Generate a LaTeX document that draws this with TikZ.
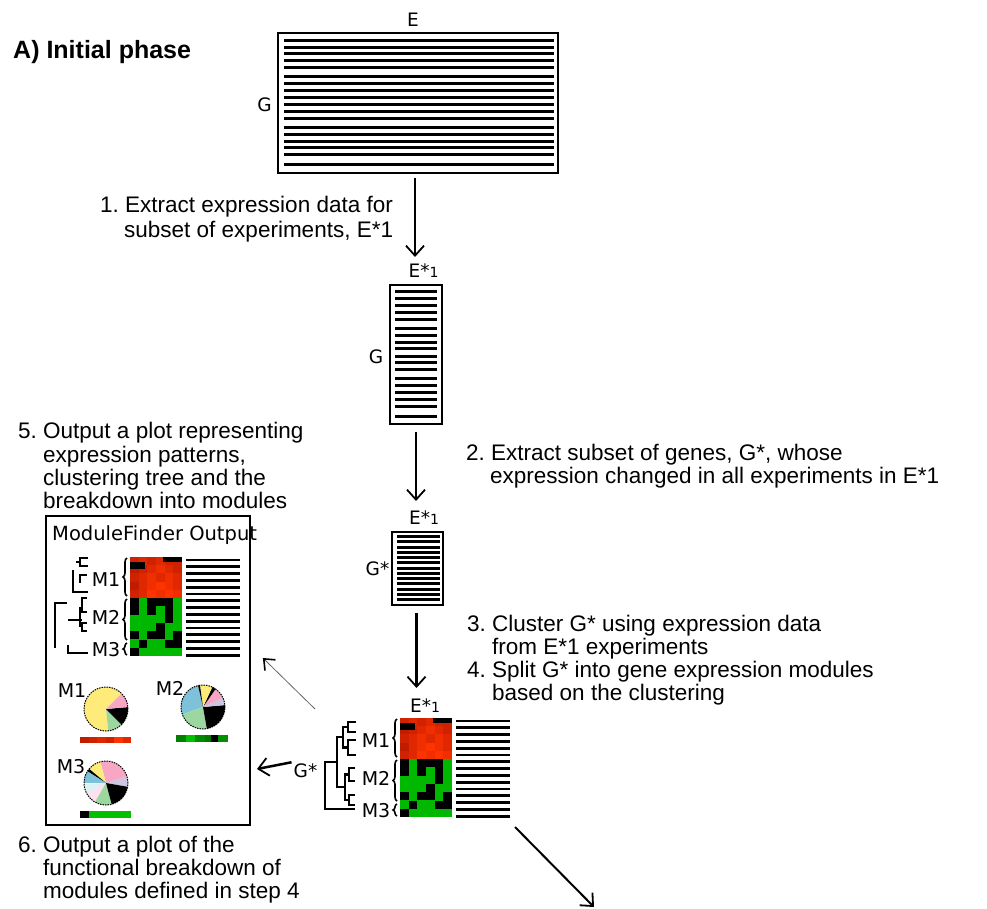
\documentclass[tikz,border=0pt]{standalone}
\usepackage{fontspec}
\setmainfont{Liberation Sans}
\newfontfamily\dvfont{DejaVu Sans}
\usetikzlibrary{arrows.meta,decorations.pathreplacing,calc}
\frenchspacing

\definecolor{pyel}{HTML}{FFEB7A}
\definecolor{ppink}{HTML}{F7A6C4}
\definecolor{pgreen}{HTML}{9CD7A0}
\definecolor{pblue}{HTML}{7EC2DA}
\definecolor{plav}{HTML}{CDC6E2}
\definecolor{pcyan}{HTML}{DCEFF3}
\definecolor{plpink}{HTML}{FDE1EE}
\definecolor{hg}{HTML}{00B800}
\definecolor{rA}{HTML}{C01C00}
\definecolor{rB}{HTML}{D02200}
\definecolor{rC}{HTML}{E02800}
\definecolor{rD}{HTML}{F02E00}
\definecolor{rE}{HTML}{FF3300}
\definecolor{gA}{HTML}{007F00}
\definecolor{gB}{HTML}{00C000}
\definecolor{gC}{HTML}{008800}
\definecolor{gD}{HTML}{007800}
\definecolor{gE}{HTML}{009000}

\newcommand\estar{E*{\fontsize{14}{14}\selectfont 1}}
\newcommand\pslice[4]{\fill[#1] (0,0) -- (#2:#4) arc (#2:#3:#4) -- cycle;}

\tikzset{
 steptext/.style={anchor=base west, inner sep=0pt, font=\fontsize{22.5}{24}\selectfont},
 lab/.style={inner sep=0pt, anchor=base, font=\dvfont\fontsize{18.5}{19}\selectfont},
 mlab/.style={inner sep=0pt, anchor=base, font=\dvfont\fontsize{19}{19}\selectfont},
 stripe/.style={line width=2.9pt},
 matbox/.style={draw, line width=1.8pt, inner sep=0pt},
 arr/.style={line width=2.3pt, -{Straight Barb[length=10pt,width=18pt,line width=1.8pt]}},
 dendro/.style={line width=2.4pt},
 brc/.style={decorate, decoration={brace,amplitude=4pt}, line width=1.6pt},
 pieedge/.style={line width=1pt, dash pattern=on 1.5pt off 1pt},
}

% heatmap + stripes + braces + labels, local origin = heatmap top-left
\newcommand\modblock[3]{%
\begin{scope}[shift={(#2,#3)}]
 \foreach \cc [count=\i from 0] in {rB,rC,rB,rC,rB,rB, rA,rB,rC,rD,rC,rB, rB,rC,rD,rC,rD,rC, rA,rC,rD,rE,rD,rC, rB,rC,rE,rD,rE,rD}{
   \pgfmathsetmacro\cx{mod(\i,6)*52/6}
   \pgfmathsetmacro\cy{floor(\i/6)*8.2}
   \fill[\cc] (\cx,\cy) rectangle ++(8.8,8.4);}
 \fill[black] (33,0) rectangle (52,4.5);
 \fill[black] (0,4.5) rectangle (15,12);
 \fill[black] (0,41) rectangle (52,99);
 \foreach \g [count=\i from 0] in {0,1,0,0,0,1, 0,1,0,1,0,1, 1,1,1,1,0,1, 1,1,1,0,1,1, 0,1,0,0,1,0, 1,0,1,1,0,0, 0,1,1,1,1,1}{
   \ifnum\g=1
   \pgfmathsetmacro\cx{mod(\i,6)*52/6}
   \pgfmathsetmacro\cy{41+floor(\i/6)*58/7}
   \fill[hg] (\cx,\cy) rectangle ++(8.8,8.4);
   \fi}
 \foreach \k in {0,...,14}{\draw[stripe] (56,{3+6.8*\k}) -- (110,{3+6.8*\k});}
 \draw[brc] (-3,39) -- (-3,1);
 \draw[brc] (-3,83) -- (-3,42);
 \draw[brc] (-3,98) -- (-3,86);
 \node[mlab] (#1m1) at (-24,29) {M1};
 \node[mlab] (#1m2) at (-24,67) {M2};
 \node[mlab] (#1m3) at (-24,99) {M3};
\end{scope}}

\begin{document}
\begin{tikzpicture}[x=1pt,y=-1pt]
\useasboundingbox (0,0) rectangle (987,909);

% title
\node[anchor=base west, inner sep=0pt, font=\fontsize{25}{28}\selectfont\bfseries] (title) at (13,59) {A) Initial phase};

% big matrix
\node[matbox, minimum width=280pt, minimum height=140pt] (bigM) at (418,103) {};
\foreach \o in {8,15,21.5,28.5,35.5,44.5,51.5,58.5,65,72.5,79,86,95,102,109,115.5,122.5,132.5}
  {\draw[stripe] ($(bigM.north west)+(7,\o)$) -- ($(bigM.north east)+(-5,\o)$);}
\node[lab] (Elab) at (413,27) {E};
\node[lab] (Glab) at (264.5,112) {G};

% E*1 matrix
\node[lab] (e1a) at (423.5,277) {\estar};
\node[matbox, minimum width=52pt, minimum height=139pt] (e1M) at (416,354.5) {};
\foreach \o in {7.5,14.5,21,28,35,44,51,58,64.5,72,78.5,85.5,94.5,101.5,108.5,115,122,132}
  {\draw[stripe] ($(e1M.north west)+(6,\o)$) -- ($(e1M.north east)+(-5.5,\o)$);}
\node[lab] (Glab2) at (376,363) {G};

% G* matrix
\node[lab] (e1b) at (424,524) {\estar};
\node[matbox, minimum width=51pt, minimum height=73pt] (gsM) at (417.5,568.5) {};
\foreach \k in {0,...,12}
  {\draw[stripe] ($(gsM.north west)+(6,{5.5+5.25*\k})$) -- ($(gsM.north east)+(-3.5,{5.5+5.25*\k})$);}
\node[lab] (gs) at (377.5,575) {G*};

% clustered block
\node[lab] (e1c) at (425,712) {\estar};
\modblock{b}{400}{718}
\begin{scope}[shift={(400,718)}]
 \draw[dendro] (-44,4) -- (-52,4) -- (-52,14) -- (-44,14);
 \draw[dendro] (-44,22) -- (-52,22) -- (-52,37) -- (-44,37);
 \draw[dendro] (-52,9) -- (-57,9) -- (-57,29.5) -- (-52,29.5);
 \draw[dendro] (-57,19) -- (-63,19) -- (-63,69) -- (-55,69);
 \draw[dendro] (-45,50) -- (-51,50) -- (-51,63) -- (-45,63);
 \draw[dendro] (-45,77) -- (-51,77) -- (-51,87) -- (-45,87);
 \draw[dendro] (-51,56.5) -- (-55,56.5) -- (-55,82) -- (-51,82);
 \draw[dendro] (-63,44) -- (-75,44) -- (-75,91) -- (-62,91);
 \draw[line width=2.8pt] (-62,91) -- (-45,91);
\end{scope}
\node[lab] (gs2) at (305.5,777) {G*};

% ModuleFinder output box
\node[draw, line width=1.8pt, inner sep=0pt, minimum width=204pt, minimum height=309pt] (mfbox) at (148,670.5) {};
\node[anchor=base west, inner sep=0pt, font=\dvfont\fontsize{19.5}{20}\selectfont] (mfo) at (52,540) {ModuleFinder Output};
\modblock{a}{130}{557}
\begin{scope}[shift={(130,557)}]
 \draw[dendro] (-42,1) -- (-50,1) -- (-50,9) -- (-42,9);
 \draw[dendro] (-50,5) -- (-54,5);
 \draw[dendro] (-57,13) -- (-57,35) -- (-42,35);
 \draw[dendro] (-43,18) -- (-50,18) -- (-50,26);
 \draw[dendro] (-63,46) -- (-75,46) -- (-75,91);
 \draw[dendro] (-43,41) -- (-48,41) -- (-48,55) -- (-43,55);
 \draw[dendro] (-43,66) -- (-48,66) -- (-48,74) -- (-43,74);
 \draw[dendro] (-50,50) -- (-50,70);
 \draw[dendro] (-62,63) -- (-48,63);
 \draw[dendro] (-62,88) -- (-62,96) -- (-42,96);
\end{scope}

% pies
\node[mlab] (pm1) at (72,697) {M1};
\node[mlab] (pm2) at (170,695) {M2};
\node[mlab] (pm3) at (71,773.5) {M3};
\begin{scope}[shift={(106,709)}, yscale=-1]
 \pslice{pyel}{45}{276}{22}
 \pslice{pgreen}{276}{315}{22}
 \pslice{black}{315}{365}{22}
 \pslice{ppink}{365}{405}{22}
 \draw[pieedge] (0,0) circle (22);
\end{scope}
\begin{scope}[shift={(203,707)}, yscale=-1]
 \pslice{pblue}{103}{200}{22}
 \pslice{pgreen}{200}{280}{22}
 \pslice{black}{280}{365}{22}
 \pslice{plav}{365}{385}{22}
 \pslice{ppink}{385}{415}{22}
 \pslice{black}{415}{425}{22}
 \pslice{pyel}{425}{458}{22}
 \pslice{black}{458}{463}{22}
 \draw[pieedge] (0,0) circle (22);
\end{scope}
\begin{scope}[shift={(106,783)}, yscale=-1]
 \pslice{plav}{-10}{18}{22}
 \pslice{ppink}{18}{105}{22}
 \pslice{pyel}{105}{140}{22}
 \pslice{black}{140}{148}{22}
 \pslice{pblue}{148}{180}{22}
 \pslice{pcyan}{183}{210}{22}
 \pslice{plpink}{210}{240}{22}
 \pslice{pgreen}{240}{285}{22}
 \pslice{black}{285}{350}{22}
 \draw[pieedge] (0,0) circle (22);
\end{scope}
% bars
\foreach \cc [count=\i from 0] in {rA,rB,rC,rB,rE,rC}{\fill[\cc] ({80+8.5*\i},737) rectangle ++(8.6,5.5);}
\fill[gA] (176,735) rectangle (186,742);
\fill[gB] (186,735) rectangle (195,742);
\fill[gC] (195,735) rectangle (205,742);
\fill[gD] (205,735) rectangle (211,742);
\fill[black] (211,735) rectangle (218,742);
\fill[gE] (218,735) rectangle (228,742);
\fill[black] (80,811) rectangle (89,818);
\fill[gB] (89,811) rectangle (131,818);

% arrows
\coordinate (a1e) at (415,257);
\draw[arr] ($(bigM.south)+(-3,4)$) -- (a1e);
\coordinate (a2e) at (416,501);
\draw[arr] ($(e1M.south)+(0,7)$) -- (a2e);
\coordinate (a3e) at (416.5,688);
\draw[arr] ($(gsM.south)+(-1,7)$) -- (a3e);
\coordinate (a4e) at (257,769);
\draw[line width=2.5pt, -{Straight Barb[length=10pt,width=18pt,line width=1.8pt]}] ($(gs2.west)+(-2,-8)$) -- (a4e);
\coordinate (a5s) at (315,709);
\draw[line width=0.8pt, black!60, -{Straight Barb[length=9pt,width=15pt,line width=1.6pt,color=black]}] (a5s) -- ($(mfbox.east)+(12,-12.5)$);
\coordinate (a6s) at (515,827);
\coordinate (a6e) at (594,907);
\draw[line width=2pt, -{Straight Barb[length=10pt,width=18pt,line width=1.8pt]}] (a6s) -- (a6e);

% step texts
\node[steptext] (s1a) at (100,213) {1. Extract expression data for};
\node[steptext] (s1b) at (124,237) {subset of experiments, E*1};
\node[steptext] (s2a) at (466,460) {2. Extract subset of genes, G*, whose};
\node[steptext] (s2b) at (490,483) {expression changed in all experiments in E*1};
\node[steptext] (s3a) at (467,631) {3. Cluster G* using expression data};
\node[steptext] (s3b) at (492,654) {from E*1 experiments};
\node[steptext] (s4a) at (467,677) {4. Split G* into gene expression modules};
\node[steptext] (s4b) at (492,700) {based on the clustering};
\node[steptext] (s5a) at (18,438) {5. Output a plot representing};
\node[steptext] (s5b) at (43,462) {expression patterns,};
\node[steptext] (s5c) at (43,485) {clustering tree and the};
\node[steptext] (s5d) at (43,508) {breakdown into modules};
\node[steptext] (s6a) at (18,852) {6. Output a plot of the};
\node[steptext] (s6b) at (43,875) {functional breakdown of};
\node[steptext] (s6c) at (43,898) {modules defined in step 4};
\end{tikzpicture}
\end{document}
